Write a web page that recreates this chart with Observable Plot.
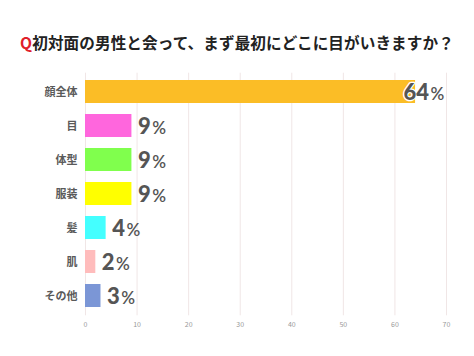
<!DOCTYPE html>
<html>
<head>
<meta charset="utf-8">
<script src="https://cdn.jsdelivr.net/npm/d3@7"></script>
<script src="https://cdn.jsdelivr.net/npm/@observablehq/plot@0.6"></script>
<style>
  html, body { margin: 0; padding: 0; background: #fff; }
  #title { height: 62px; box-sizing: border-box; padding-top: 31px; text-align: center;
    font-family: "Noto Sans CJK JP", sans-serif; font-weight: 700; font-size: 15.6px; line-height: 22px; color: #222; letter-spacing: 0.1px; }
  #title .q { color: #e0202a; }
  svg { display: block; }
</style>
</head>
<body>
<div id="title"><span class="q">Q</span>初対面の男性と会って、まず最初にどこに目がいきますか？</div>
<div id="chart"></div>
<script>
const categories = ["顔全体", "目", "体型", "服装", "髪", "肌", "その他"];
const values = [64, 9, 9, 9, 4, 2, 3];
const xTicks = [0, 10, 20, 30, 40, 50, 60, 70];
const palette = ["#fbbd26", "#ff66dd", "#80ff4d", "#ffff00", "#44ffff", "#ffbcbc", "#7b96d6"];

const data = categories.map((c, i) => ({category: c, value: values[i]}));

const chart = Plot.plot({
  width: 474,
  height: 294,
  marginTop: 10.7,
  marginBottom: 40.7,
  marginLeft: 85,
  marginRight: 28,
  style: {background: "#fff", fontFamily: "Noto Sans CJK JP, sans-serif"},
  x: {domain: [0, 70], ticks: xTicks, label: null},
  y: {domain: categories, paddingInner: 0.31, paddingOuter: 0.155, label: null},
  color: {domain: categories, range: palette},
  marks: [
    Plot.gridX(xTicks, {stroke: "#f0e6e6", strokeOpacity: 1, strokeWidth: 1}),
    Plot.barX(data, {y: "category", x: "value", fill: "category"}),
    Plot.ruleY([0], {frameAnchor: "bottom", stroke: "#e6c2c2", strokeWidth: 1.5}),
    Plot.axisX({ticks: xTicks, tickSize: 0, tickPadding: 6, fontSize: 7, fill: "#999", label: null}),
    Plot.axisY({tickSize: 0, tickPadding: 8, fontSize: 11, fontWeight: 700, fill: "#5a5a5a", label: null}),
    Plot.text(data.filter(d => d.value < 50), {
      y: "category", x: "value", text: d => String(d.value), textAnchor: "start", dx: 6, dy: 1,
      fontSize: 22, fontWeight: 900, fill: "#555", fontFamily: "Lato, sans-serif"
    }),
    Plot.text(data.filter(d => d.value >= 50), {
      y: "category", x: "value", text: d => String(d.value), textAnchor: "start", dx: -12, dy: 1,
      fontSize: 22, fontWeight: 900, fill: "#555", stroke: "#fff", strokeWidth: 2.5, fontFamily: "Lato, sans-serif"
    })
  ]
});

d3.select(chart).selectAll('g[aria-label="text"] text').each(function() {
  const t = d3.select(this);
  const num = t.text();
  t.text(null);
  t.append("tspan").text(num);
  t.append("tspan").attr("font-size", 17).attr("font-weight", 600).attr("dx", 1.5).text("%");
});

document.getElementById("chart").appendChild(chart);
</script>
</body>
</html>
